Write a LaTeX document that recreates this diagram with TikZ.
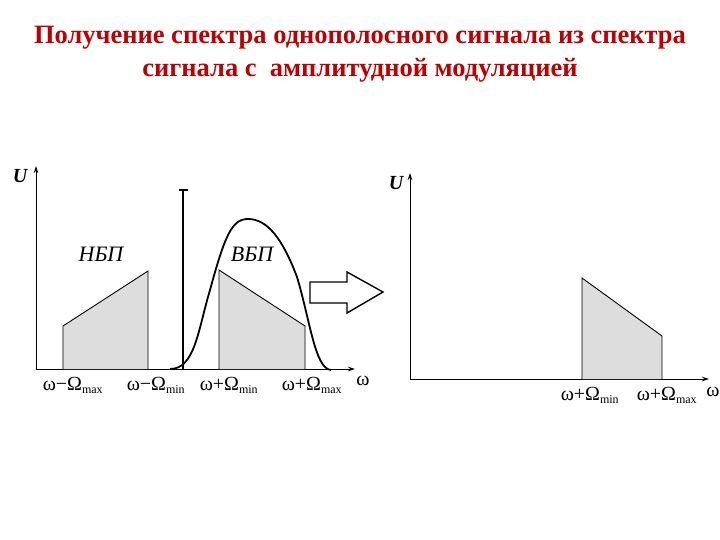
\documentclass[tikz,border=0pt]{standalone}
\usepackage{fontspec}
\setmainfont{Liberation Serif}
\usepackage{tikz}
\usetikzlibrary{arrows.meta,positioning}
\definecolor{titlec}{RGB}{192,0,0}
\definecolor{bandc}{RGB}{221,221,221}
\newcommand{\lbl}[2]{ω#1Ω\textsubscript{\fontsize{12}{12}\selectfont #2}}

\begin{document}
\begin{tikzpicture}[x=1pt, y=-1pt,
  every node/.style={font=\fontsize{20}{22}\selectfont, inner sep=0pt},
  axis/.style={line width=0.9pt, -{Stealth[length=7pt,width=4.5pt]}},
  band/.style={draw, line width=0.9pt, fill=bandc},
  filt/.style={line width=1.8pt},
  ulbl/.style={font=\fontsize{20}{22}\selectfont\bfseries\itshape},
  blbl/.style={font=\fontsize{22}{24}\selectfont\itshape},
  title/.style={font=\fontsize{26.5}{33}\selectfont\bfseries, text=titlec, align=center}]
  \useasboundingbox (0,0) rectangle (720,540);
  \node[title] (head) at (360,54) {Получение спектра однополосного сигнала из спектра\\ сигнала с\ \ амплитудной модуляцией};
  % left spectrum: AM signal
  \coordinate (o1) at (36,369);
  \draw[axis] (o1) -- (36,166) coordinate (u1);
  \draw[axis] (o1) -- (355,369) coordinate (w1);
  \node[ulbl] (ua) at (20,176) {U};
  \draw[band] (63,369) -- (63,326) -- (148,271) -- (148,369);
  \draw[band] (219,369) -- (219,270) -- (305,326) -- (305,369);
  \draw[filt] (183,190) -- (183,369);
  \draw[line width=1.4pt] (179,190) -- (188,190);
  \draw[filt] (170,369) .. controls (195,369) and (198,330) .. (210,290)
    .. controls (225,235) and (232,219) .. (248,219)
    .. controls (268,219) and (283,240) .. (297,277)
    .. controls (310,320) and (315,369) .. (331,370);
  \node[blbl] (lsb) at (101,254) {НБП};
  \node[blbl] (usb) at (252,254) {ВБП};
  \node (a1) at (73,385) {\lbl{−}{max}};
  \node (a2) at (156,385) {\lbl{−}{min}};
  \node (a3) at (229,385) {\lbl{+}{min}};
  \node (a4) at (312,385) {\lbl{+}{max}};
  \node (wa) at (363,381) {ω};
  % hollow arrow
  \draw[line width=1.4pt, fill=white] (310,282) -- (347,282) -- (347,272) -- (383,292) -- (347,313) -- (347,303) -- (310,303) -- cycle;
  % right spectrum: SSB signal
  \coordinate (o2) at (410,379);
  \draw[axis] (o2) -- (410,173) coordinate (u2);
  \draw[axis] (o2) -- (709,379) coordinate (w2);
  \node[ulbl] (ub) at (396,183) {U};
  \draw[band] (582,379) -- (582,278) -- (662,336) -- (662,379);
  \node (b1) at (590,395) {\lbl{+}{min}};
  \node (b2) at (667,395) {\lbl{+}{max}};
  \node (wb) at (713,392) {ω};
\end{tikzpicture}
\end{document}
